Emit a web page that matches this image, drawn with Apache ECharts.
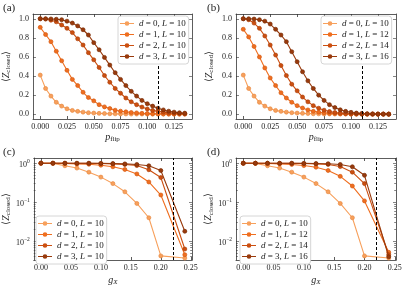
<!DOCTYPE html>
<html><head><meta charset="utf-8">
<script src="https://cdn.jsdelivr.net/npm/echarts@6/dist/echarts.min.js"></script>
<style>html,body{margin:0;padding:0;background:#fff}#c{width:407px;height:287px}</style>
</head><body><div id="c"></div>
<script>
// ---------- data ----------
const pFlip = [0,0.005,0.01,0.015,0.02,0.025,0.03,0.035,0.04,0.045,0.05,0.055,0.06,0.065,0.07,0.075,0.08,0.085,0.09,0.095,0.1,0.105,0.11,0.115,0.12,0.125,0.13,0.135];
const a_d0 = [0.41,0.27,0.19,0.125,0.085,0.057,0.04,0.03,0.022,0.016,0.012,0.009,0.007,0.005,0.004,0.003,0.003,0.002,0.002,0.002,0.001,0.001,0.001,0.001,0.001,0.001,0.001,0.001];
const a_d1 = [0.91,0.835,0.76,0.66,0.56,0.46,0.365,0.30,0.23,0.175,0.14,0.10,0.077,0.06,0.042,0.032,0.025,0.018,0.014,0.010,0.008,0.006,0.005,0.004,0.003,0.003,0.002,0.002];
const a_d2 = [1.0,0.997,0.985,0.968,0.935,0.90,0.855,0.79,0.725,0.645,0.57,0.49,0.405,0.335,0.27,0.22,0.17,0.13,0.10,0.075,0.055,0.04,0.03,0.022,0.015,0.011,0.008,0.006];
const a_d3 = [1.0,1.0,0.998,0.995,0.99,0.975,0.955,0.925,0.885,0.83,0.75,0.675,0.595,0.515,0.435,0.365,0.30,0.24,0.19,0.145,0.11,0.085,0.063,0.045,0.032,0.022,0.015,0.011];
const b_d0 = [0.41,0.27,0.19,0.125,0.085,0.057,0.04,0.03,0.022,0.016,0.012,0.009,0.007,0.005,0.004,0.003,0.003,0.002,0.002,0.002,0.001,0.001,0.001,0.001,0.001,0.001,0.001,0.001];
const b_d1 = [0.89,0.81,0.71,0.60,0.485,0.38,0.30,0.225,0.17,0.125,0.09,0.065,0.045,0.03,0.022,0.015,0.01,0.007,0.005,0.004,0.003,0.002,0.002,0.001,0.001,0.001,0.001,0.001];
const b_d2 = [1.0,0.99,0.955,0.90,0.82,0.725,0.62,0.51,0.405,0.315,0.245,0.18,0.13,0.09,0.063,0.042,0.028,0.018,0.012,0.008,0.005,0.004,0.003,0.002,0.002,0.001,0.001,0.001];
const b_d3 = [1.0,1.0,0.997,0.99,0.975,0.945,0.89,0.83,0.76,0.655,0.55,0.445,0.35,0.27,0.20,0.145,0.10,0.07,0.046,0.03,0.02,0.012,0.008,0.005,0.003,0.002,0.002,0.001];

const gX = [0,0.02,0.04,0.06,0.08,0.10,0.12,0.14,0.16,0.18,0.20,0.24];
const c_d0 = [1.0,0.99,0.86,0.75,0.59,0.44,0.30,0.185,0.093,0.04,0.0042,0.0037];
const c_d1 = [1.0,1.0,0.99,0.96,0.94,0.89,0.81,0.69,0.53,0.33,0.153,0.0045];
const c_d2 = [1.0,1.0,1.0,0.99,0.99,0.98,0.96,0.93,0.87,0.68,0.43,0.0063];
const c_d3 = [1.0,1.0,1.0,1.0,1.0,0.99,0.98,0.96,0.93,0.86,0.65,0.018];
const d_d0 = [1.0,0.99,0.86,0.75,0.59,0.44,0.30,0.185,0.093,0.04,0.0042,0.0037];
const d_d1 = [1.0,1.0,0.98,0.96,0.93,0.87,0.79,0.65,0.46,0.26,0.108,0.0052];
const d_d2 = [1.0,1.0,1.0,0.99,0.99,0.98,0.96,0.93,0.82,0.59,0.30,0.0045];
const d_d3 = [1.0,1.0,1.0,1.0,1.0,0.99,0.98,0.97,0.93,0.81,0.49,0.0040];

const namesA = ['d = 0, L = 10','d = 1, L = 10','d = 2, L = 10','d = 3, L = 10'];
const namesB = ['d = 0, L = 10','d = 1, L = 12','d = 2, L = 14','d = 3, L = 16'];
const pTicks = [0,0.025,0.05,0.075,0.1,0.125];
const linTicksY = [0,0.2,0.4,0.6,0.8,1.0];
const gTicks = [0,0.05,0.1,0.15,0.2,0.25];
const logMajor = [0.01,0.1,1];
const logMinor = [0.004,0.005,0.006,0.007,0.008,0.009,0.02,0.03,0.04,0.05,0.06,0.07,0.08,0.09,0.2,0.3,0.4,0.5,0.6,0.7,0.8,0.9];
const pThreshold = 0.109;
const gThreshold = 0.22;
const panelLabels = ['(a)','(b)','(c)','(d)'];

// ---------- style ----------
const serif = 'Liberation Serif';
const COL = ['#f7a05c','#ef6e1f','#cc4f10','#993a0c'];
const EDGE = ['#e88a42','#d65a12','#ad3f08','#7a2c06'];
const AX = '#333';

const grids = [
  {left:32, top:14, width:160, height:105},
  {left:236, top:14, width:160, height:105},
  {left:32, top:158, width:160, height:104},
  {left:236, top:158, width:160, height:104}
];

const richBase = {
  i:{fontStyle:'italic', fontFamily:serif, fontSize:10, color:'#222'},
  r:{fontFamily:serif, fontSize:10, color:'#222'},
  s:{fontFamily:serif, fontSize:7, color:'#222', padding:[5,0,0,0]},
  si:{fontFamily:serif, fontStyle:'italic', fontSize:7, color:'#222', padding:[5,0,0,0]}
};

function xAx(gi, min, max, ticks, fmt, name, top, gap) {
  return {
    type:'value', gridIndex:gi, min:min, max:max, position: top ? 'top' : 'bottom',
    axisLine:{show:true, onZero:false, lineStyle:{color:AX, width:0.8}},
    axisTick:{show:true, inside:true, length:3, customValues:ticks, lineStyle:{color:AX, width:0.8}},
    axisLabel:{show:!top, customValues:ticks, formatter:fmt, fontFamily:serif, fontSize:8, color:'#222', margin:4},
    splitLine:{show:false},
    name: top ? '' : name, nameLocation:'middle', nameGap:gap || 12,
    nameTextStyle:{fontFamily:serif, fontSize:10, color:'#222', rich:richBase}
  };
}
function yAx(gi, type, min, max, ticks, fmt, name, pos, showLabel, tickLen, rich) {
  return {
    type:type, logBase:10, gridIndex:gi, min:min, max:max, position:pos,
    axisLine:{show:tickLen > 2, onZero:false, lineStyle:{color:AX, width:0.8}},
    axisTick:{show:true, inside:true, length:tickLen, customValues:ticks, lineStyle:{color:AX, width:0.6}},
    axisLabel:{show:showLabel, customValues:ticks, formatter:fmt, fontFamily:serif, fontSize:8, color:'#222', margin:4, rich:rich},
    splitLine:{show:false},
    name: name, nameLocation:'middle', nameGap:21, nameRotate:90,
    nameTextStyle:{fontFamily:serif, fontSize:10, color:'#222', rich:richBase}
  };
}
const yName = '{r|⟨}{i|Z}{s|closed}{r|⟩}';
const fmt3 = v => v.toFixed(3);
const fmt2 = v => v.toFixed(2);
const fmt1 = v => v.toFixed(1);
const supRich = {
  b:{fontFamily:serif, fontSize:8, color:'#222', padding:[3,0,0,0]},
  p:{fontFamily:serif, fontSize:5.5, color:'#222', padding:[0,0,3,0]}
};
const fmtLog = v => '{b|10}{p|' + String(Math.round(Math.log10(v))).replace('-', '−') + '}';

const xAxis = [
  xAx(0, -0.00675, 0.14175, pTicks, fmt3, '{i|p}{s|flip}', false, 11), xAx(0, -0.00675, 0.14175, pTicks, fmt3, '', true),
  xAx(1, -0.00675, 0.14175, pTicks, fmt3, '{i|p}{s|flip}', false, 11), xAx(1, -0.00675, 0.14175, pTicks, fmt3, '', true),
  xAx(2, -0.012, 0.252, gTicks, fmt2, '{i|g}{si|X}', false, 14), xAx(2, -0.012, 0.252, gTicks, fmt2, '', true),
  xAx(3, -0.012, 0.252, gTicks, fmt2, '{i|g}{si|X}', false, 14), xAx(3, -0.012, 0.252, gTicks, fmt2, '', true)
];
const LMIN = 0.0033, LMAX = 1.36;
const yAxis = [
  yAx(0,'value',-0.05,1.05,linTicksY,fmt1,yName,'left',true,3), yAx(0,'value',-0.05,1.05,linTicksY,fmt1,'','right',false,3),
  yAx(1,'value',-0.05,1.05,linTicksY,fmt1,yName,'left',true,3), yAx(1,'value',-0.05,1.05,linTicksY,fmt1,'','right',false,3),
  yAx(2,'log',LMIN,LMAX,logMajor,fmtLog,yName,'left',true,3,supRich), yAx(2,'log',LMIN,LMAX,logMajor,fmtLog,'','right',false,3),
  yAx(2,'log',LMIN,LMAX,logMinor,fmtLog,'','left',false,1.8), yAx(2,'log',LMIN,LMAX,logMinor,fmtLog,'','right',false,1.8),
  yAx(3,'log',LMIN,LMAX,logMajor,fmtLog,yName,'left',true,3,supRich), yAx(3,'log',LMIN,LMAX,logMajor,fmtLog,'','right',false,3),
  yAx(3,'log',LMIN,LMAX,logMinor,fmtLog,'','left',false,1.8), yAx(3,'log',LMIN,LMAX,logMinor,fmtLog,'','right',false,1.8)
];

const panels = [
  {xs:pFlip, ys:[a_d0,a_d1,a_d2,a_d3], names:namesA, xi:0, yi:0, thr:pThreshold},
  {xs:pFlip, ys:[b_d0,b_d1,b_d2,b_d3], names:namesB, xi:2, yi:2, thr:pThreshold},
  {xs:gX, ys:[c_d0,c_d1,c_d2,c_d3], names:namesA, xi:4, yi:4, thr:gThreshold},
  {xs:gX, ys:[d_d0,d_d1,d_d2,d_d3], names:namesB, xi:6, yi:8, thr:gThreshold}
];
const series = [];
panels.forEach((p) => {
  p.ys.forEach((ys, k) => {
    const s = {
      type:'line', name:p.names[k], xAxisIndex:p.xi, yAxisIndex:p.yi,
      data: p.xs.map((x, j) => [x, ys[j]]),
      symbol:'circle', symbolSize:4, showSymbol:true,
      lineStyle:{color:COL[k], width:1.1},
      itemStyle:{color:COL[k], borderColor:EDGE[k], borderWidth:0.7},
      z: 2 + k, silent:true
    };
    if (k === 3) {
      s.markLine = {silent:true, symbol:['none','none'], label:{show:false},
        lineStyle:{color:'#000', type:[3,2], width:1}, data:[{xAxis:p.thr}], z:10};
    }
    series.push(s);
  });
});

// legend icon: a line with a circle marker, path box 14 x 8
const legendIcon = 'path://M0,0L0.01,0L0.01,0.01Z M14,8L13.99,8L13.99,7.99Z M0,3.5L14,3.5L14,4.5L0,4.5Z M4.7,4A2.3,2.3,0,1,1,9.3,4A2.3,2.3,0,1,1,4.7,4Z';
const legendRich = {
  i:{fontStyle:'italic', fontFamily:serif, fontSize:9, color:'#222', lineHeight:8},
  r:{fontFamily:serif, fontSize:9, color:'#222', lineHeight:8}
};
const legFmt = name => {
  const m = name.match(/d = (\d+), L = (\d+)/);
  return '{i|d}{r| = ' + m[1] + ', }{i|L}{r| = ' + m[2] + '}';
};
function leg(names, left, top) {
  return {
    data:names.map(n => ({name:n, icon:legendIcon})), orient:'vertical', left:left, top:top,
    itemWidth:14, itemHeight:8, itemGap:2, itemStyle:{borderWidth:0},
    padding:[3,3,3,2], borderColor:'#ccc', borderWidth:0.8, borderRadius:3, backgroundColor:'#fff',
    textStyle:{fontFamily:serif, fontSize:9, lineHeight:8, color:'#222', rich:legendRich}, formatter:legFmt,
    selectedMode:false, z:20
  };
}
const legend = [leg(namesA, 118, 16), leg(namesB, 321, 16), leg(namesA, 36, 216), leg(namesB, 240, 216)];

const graphic = panelLabels.map((t, i) => ({
  type:'text', left: (i % 2 === 0 ? 3 : 207), top: (i < 2 ? 3 : 147),
  style:{text:t, font:'11px "Liberation Serif"', fill:'#222'}
}));

const chart = echarts.init(document.getElementById('c'), null, {renderer:'canvas'});
chart.setOption({animation:false, backgroundColor:'#fff', grid:grids, xAxis:xAxis, yAxis:yAxis, series:series, legend:legend, graphic:graphic});
</script></body></html>
